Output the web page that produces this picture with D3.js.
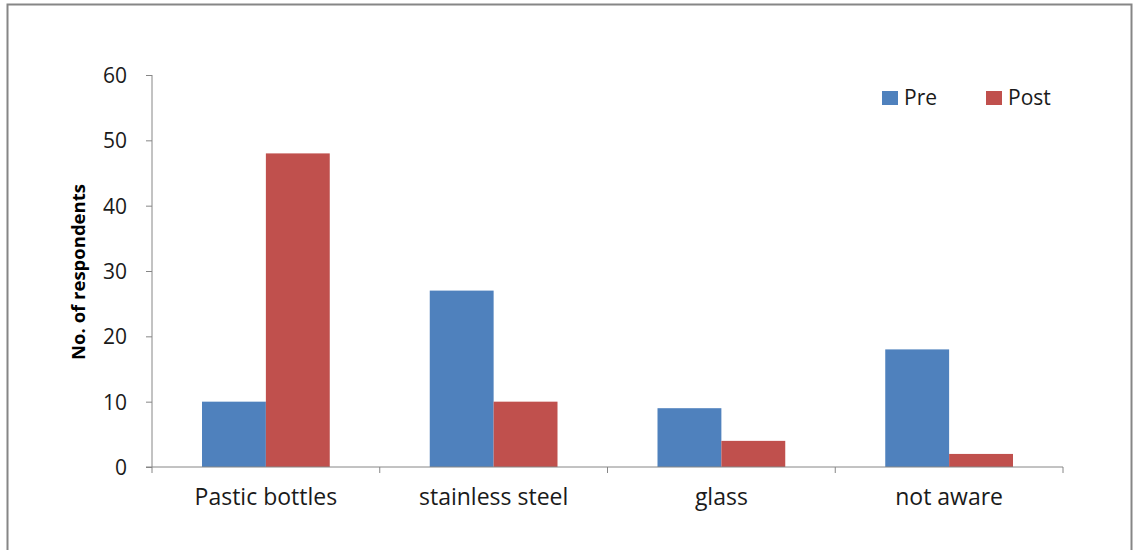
<!DOCTYPE html>
<html><head><meta charset="utf-8">
<script src="https://cdn.jsdelivr.net/npm/d3@7"></script>
<style>body{margin:0;background:#fff}svg{display:block}text{font-family:"Open Sans",sans-serif}</style>
</head><body><svg id="c" width="1138" height="550"></svg>
<script>
const categories = ["Pastic bottles","stainless steel","glass","not aware"];
const seriesNames = ["Pre","Post"];
const preValues = [10,27,9,18];
const postValues = [48,10,4,2];
const yTicks = [0,10,20,30,40,50,60];
const colors = ["#4F81BD","#C0504D"];

const svg = d3.select("#c");
svg.append("rect").attr("x",7.5).attr("y",4.5).attr("width",1124).attr("height",560)
  .attr("fill","none").attr("stroke","#868686").attr("stroke-width",2);

const x = d3.scaleBand().domain(categories).range([152,1063]);
const y = d3.scaleLinear().domain([0,60]).range([467,75]);
const inner = d3.scaleBand().domain(seriesNames).range([50,x.bandwidth()-50]).padding(0);

const data = categories.map((c,i)=>({c, vals:[preValues[i],postValues[i]]}));
const g = svg.append("g");
data.forEach(d=>{
  d.vals.forEach((v,j)=>{
    g.append("rect").attr("x",x(d.c)+inner(seriesNames[j])).attr("y",y(v))
      .attr("width",inner.bandwidth()).attr("height",y(0)-y(v)).attr("fill",colors[j]);
  });
});

const axisColor="#868686";
const ya = svg.append("g").attr("transform","translate(152,0)")
  .call(d3.axisLeft(y).tickValues(yTicks).tickSize(6).tickPadding(19));
ya.select(".domain").attr("stroke",axisColor).attr("d","M0,75V467");
ya.selectAll(".tick line").attr("stroke",axisColor);
ya.selectAll(".tick text").attr("font-size",21).attr("fill","#1a1a1a").attr("dy","0.35em");

const xa = svg.append("g").attr("transform","translate(0,467)")
  .call(d3.axisBottom(x).tickSize(0).tickPadding(22));
xa.select(".domain").attr("stroke",axisColor).attr("d","M146,0H1063");
xa.selectAll(".tick text").attr("font-size",23).attr("fill","#1a1a1a");
const bounds = categories.map(c=>x(c)).concat([x.range()[1]]);
xa.selectAll(".bt").data(bounds).join("line").attr("x1",d=>d).attr("x2",d=>d)
  .attr("y1",0).attr("y2",6).attr("stroke",axisColor);

svg.append("text").attr("transform","translate(85,272) rotate(-90)")
  .attr("text-anchor","middle").attr("font-size",18.5).attr("font-weight","bold")
  .attr("fill","#000").text("No. of respondents");

const legX=[882,986];
seriesNames.forEach((s,i)=>{
  svg.append("rect").attr("x",legX[i]).attr("y",91).attr("width",16).attr("height",14).attr("fill",colors[i]);
  svg.append("text").attr("x",legX[i]+22).attr("y",105).attr("font-size",21).attr("fill","#1a1a1a").text(s);
});
</script></body></html>
